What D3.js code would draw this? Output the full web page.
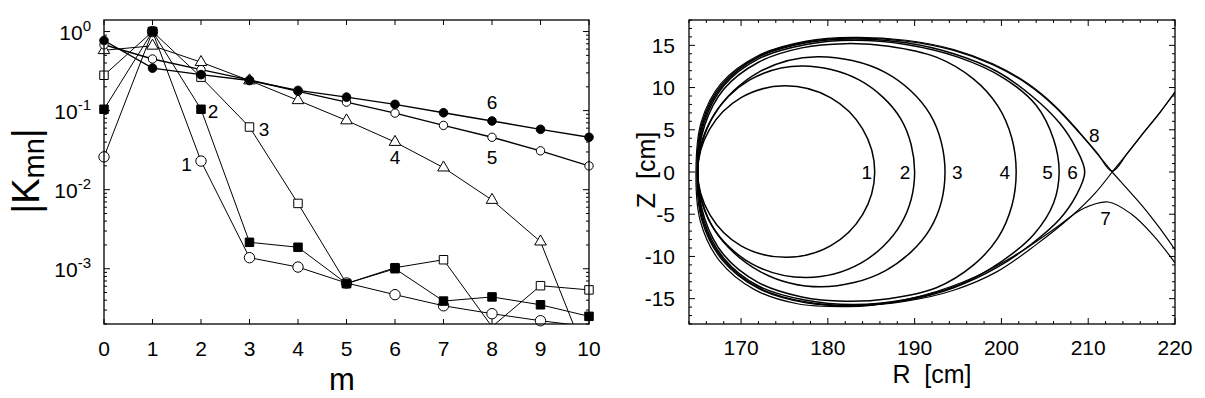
<!DOCTYPE html>
<html lang="en">
<head>
<meta charset="UTF-8">
<title>Kmn spectrum and flux surfaces</title>
<script src="https://d3js.org/d3.v7.min.js"></script>
<style>
  body { margin: 0; background: #fff; }
  svg { display: block; font-family: "Liberation Sans", Arial, sans-serif; }
  .frame { fill: none; stroke: #000; stroke-width: 1.3; }
</style>
</head>
<body>
<svg id="chart" width="1205" height="398"></svg>
<script>
// ---- left panel data: |K_mn| versus m ----
const mValues = [0, 1, 2, 3, 4, 5, 6, 7, 8, 9, 10];
const k1 = [0.026, 1.0, 0.023, 0.00138, 0.00105, 0.00066, 0.00047, 0.00034, 0.00027, 0.00022, 0.000185];
const k2 = [0.104, 1.0, 0.104, 0.00216, 0.00187, 0.00065, 0.001, 0.00039, 0.00044, 0.00035, 0.00025];
const k3 = [0.28, 1.0, 0.265, 0.062, 0.0067, 0.00065, 0.00103, 0.0013, 0.000185, 0.00061, 0.00054];
const k4 = [0.58, 0.66, 0.41, 0.24, 0.135, 0.075, 0.04, 0.019, 0.0074, 0.0022, 0.000063];
const k5 = [0.68, 0.45, 0.33, 0.245, 0.175, 0.128, 0.093, 0.065, 0.046, 0.031, 0.020];
const k6 = [0.77, 0.345, 0.285, 0.24, 0.18, 0.148, 0.12, 0.094, 0.074, 0.058, 0.046];
const kLabels = [["1", 1.7, 0.021], ["2", 2.25, 0.1], ["3", 3.3, 0.058], ["4", 6.0, 0.026], ["5", 8.0, 0.026], ["6", 8.0, 0.128]];
const logTicks = [0, -1, -2, -3];

// ---- right panel data: flux surfaces (R, Z) in cm ----
const surf1 = [[185.4,0],[184.0,5.1],[180.3,8.8],[175.0,10.2],[170.0,8.8],[166.4,5.1],[165.0,0],[166.4,-5.05],[170.0,-8.75],[175.2,-10.1],[180.3,-8.75],[184.0,-5.05]];
const surf2 = [[190.0,0],[188.4,6.3],[183.6,10.9],[177.0,12.55],[171.0,10.9],[166.6,6.3],[165.0,0],[166.6,-6.3],[171.2,-10.85],[177.5,-12.5],[183.8,-10.8],[188.4,-6.2]];
const surf3 = [[193.5,0],[191.8,6.8],[186.6,11.8],[178.8,13.65],[172.0,11.8],[166.9,6.8],[165.0,0],[166.9,-6.8],[172.2,-11.8],[179.2,-13.6],[186.6,-11.7],[191.8,-6.7]];
const surf4 = [[201.7,0],[201.2,4],[199.6,7.8],[196.8,11],[192.5,13.6],[187,14.9],[182,15.2],[177,14.7],[172,13],[168,9.8],[165.8,5.5],[165,0],[165.8,-5.5],[168,-9.8],[172,-13.1],[177,-14.8],[182,-15.3],[187,-15],[192.5,-13.7],[196.8,-11],[199.6,-7.8],[201.2,-4]];
const surf5 = [[206.65,0],[206,3.9],[204,7.9],[200.3,11.1],[195,13.6],[189,15.1],[183,15.6],[177.5,15.1],[172,13.4],[168,10.2],[165.7,5.7],[165,0],[165.7,-5.7],[168,-10.2],[172,-13.5],[177.5,-15.2],[183,-15.7],[189,-15.1],[195,-13.4],[200,-10.6],[203.8,-7.3],[206,-3.7]];
const surf6 = [[209.6,0],[208.6,2.8],[206.7,5.8],[203.5,9],[199.5,11.9],[194.5,14],[189,15.3],[183,15.75],[177.5,15.3],[172,13.6],[167.9,10.3],[165.6,5.8],[165,0],[165.6,-5.8],[167.9,-10.3],[172,-13.7],[177.5,-15.4],[183,-15.8],[189,-15.2],[194.5,-13.7],[199.5,-11.3],[203.5,-8.5],[206.7,-5.6],[208.6,-2.8]];
const separatrix = [[212.76,0],[211.0,2.2],[209.0,4.6],[206.2,7.7],[203,10.4],[199,12.7],[194.5,14.4],[189,15.5],[183,15.85],[177.5,15.4],[172,13.7],[167.8,10.4],[165.5,5.8],[164.9,0],[165.5,-5.8],[167.8,-10.4],[172,-13.8],[177.5,-15.5],[183,-15.85],[189,-15.3],[194.5,-14],[199.5,-11.8],[204,-8.6],[208,-5.3],[210.8,-2.5],[212.76,0]];
const legUpper = [[212.76,0],[214.5,2.2],[216.5,4.8],[218.3,7.1],[220,9.4]];
const legLower = [[212.76,0],[214.5,-2],[216.3,-4.1],[218.2,-6.6],[220,-9.2]];
const surf7 = [[220,-10.75],[217.5,-7.5],[215,-5],[212.3,-3.55],[209.5,-4.3],[206,-6.8],[202,-9.6],[197,-12.4],[191,-14.6],[185,-15.8],[182,-15.95],[176.5,-15.6],[171.5,-13.9],[167.5,-10.5],[165.3,-5.8],[164.8,0],[165.4,5.9],[167.7,10.5],[172,13.8],[177.5,15.5],[183,15.95],[189,15.6],[194.5,14.5],[199,12.8],[203,10.5],[206.2,7.8],[209,4.7],[211,2.3],[212.76,0.1],[214.5,2.2],[216.5,4.8],[218.3,7.1],[220,9.5]];
const surfLabels = [["1", 184.5, 0], ["2", 188.9, 0], ["3", 194.9, 0], ["4", 200.4, 0], ["5", 205.3, 0], ["6", 208.2, 0], ["7", 212.0, -5.4], ["8", 210.7, 4.4]];
const rTicks = [170, 180, 190, 200, 210, 220];
const zTicks = [-15, -10, -5, 0, 5, 10, 15];

const svg = d3.select("#chart");

// ================= left panel =================
const L = { left: 104, right: 589, top: 20, bottom: 324 };
const xL = d3.scaleLinear().domain([0, 10]).range([L.left, L.right]);
const yL = d3.scaleLog().domain([2e-4, 1.4]).range([L.bottom, L.top]);

const gL = svg.append("g");
gL.append("clipPath").attr("id", "clipL").append("rect")
  .attr("x", L.left).attr("y", L.top).attr("width", L.right - L.left).attr("height", L.bottom - L.top);

// ticks (inside, mirrored)
mValues.forEach(m => {
  [[L.bottom, -5], [L.top, 5]].forEach(([y0, d]) => {
    gL.append("line").attr("x1", xL(m)).attr("x2", xL(m)).attr("y1", y0).attr("y2", y0 + d)
      .attr("stroke", "#000").attr("stroke-width", 1);
  });
  gL.append("text").attr("x", xL(m)).attr("y", 356).attr("text-anchor", "middle")
    .attr("font-size", 21).text(m);
});
const minorLog = [];
for (let e = -4; e <= 0; e++) for (let k = 1; k <= 9; k++) {
  const v = k * Math.pow(10, e);
  if (v >= 2e-4 && v <= 1.4) minorLog.push({ v, major: k === 1 });
}
minorLog.forEach(t => {
  const len = t.major ? 6 : 3;
  [[L.left, len], [L.right, -len]].forEach(([x0, d]) => {
    gL.append("line").attr("x1", x0).attr("x2", x0 + d).attr("y1", yL(t.v)).attr("y2", yL(t.v))
      .attr("stroke", "#000").attr("stroke-width", 1);
  });
});
logTicks.forEach(e => {
  const t = gL.append("text").attr("x", 91).attr("y", yL(Math.pow(10, e)) + 8)
    .attr("text-anchor", "end").attr("font-size", 21);
  t.append("tspan").text("10");
  t.append("tspan").attr("dy", -9).attr("font-size", 15).text(e === 0 ? "0" : "-" + (-e));
});

const seriesL = [
  { vals: k1, sym: "circle", fill: "#fff", size: 85, lw: 1 },
  { vals: k2, sym: "square", fill: "#000", size: 72, lw: 1 },
  { vals: k3, sym: "square", fill: "#fff", size: 72, lw: 1 },
  { vals: k4, sym: "triangle", fill: "#fff", size: 58, lw: 1 },
  { vals: k5, sym: "circle", fill: "#fff", size: 55, lw: 1.4 },
  { vals: k6, sym: "circle", fill: "#000", size: 58, lw: 1.4 }
];
const markerOrder = [2, 0, 1, 3, 4, 5];
const symType = { circle: d3.symbolCircle, square: d3.symbolSquare, triangle: d3.symbolTriangle };
const lineL = d3.line().x((d, i) => xL(mValues[i])).y(d => yL(d));
const plotL = gL.append("g").attr("clip-path", "url(#clipL)");
seriesL.forEach(s => {
  plotL.append("path").attr("d", lineL(s.vals)).attr("fill", "none")
    .attr("stroke", "#000").attr("stroke-width", s.lw);
});
const [yMin, yMax] = yL.domain();
markerOrder.map(i => seriesL[i]).forEach(s => {
  const pts = s.vals.map((v, i) => ({ m: mValues[i], v })).filter(p => p.v >= yMin && p.v <= yMax);
  gL.selectAll(null).data(pts).enter().append("path")
    .attr("transform", d => `translate(${xL(d.m)},${yL(d.v)})`)
    .attr("d", d3.symbol().type(symType[s.sym]).size(s.size))
    .attr("fill", s.fill).attr("stroke", "#000").attr("stroke-width", 1);
});
kLabels.forEach(([t, m, v]) => {
  gL.append("text").attr("x", xL(m)).attr("y", yL(v) + 7).attr("text-anchor", "middle")
    .attr("font-size", 19).text(t);
});
gL.append("rect").attr("class", "frame").attr("x", L.left).attr("y", L.top)
  .attr("width", L.right - L.left).attr("height", L.bottom - L.top);
gL.append("text").attr("x", 342).attr("y", 390).attr("text-anchor", "middle").attr("font-size", 31).text("m");
const kl = gL.append("text").attr("transform", "translate(39,171) rotate(-90)")
  .attr("text-anchor", "middle").attr("font-size", 38);
kl.append("tspan").text("|K");
kl.append("tspan").attr("dy", 5).attr("font-size", 29).text("mn");
kl.append("tspan").attr("dy", -5).text("|");

// ================= right panel =================
const P = { left: 689, right: 1175, top: 20, bottom: 324 };
const xR = d3.scaleLinear().domain([164, 220]).range([P.left, P.right]);
const yR = d3.scaleLinear().domain([-18, 18]).range([P.bottom, P.top]);
const gR = svg.append("g");
gR.append("clipPath").attr("id", "clipR").append("rect")
  .attr("x", P.left).attr("y", P.top).attr("width", P.right - P.left).attr("height", P.bottom - P.top);

for (let r = 164; r <= 220; r += 2) {
  const len = r % 10 === 0 ? 6 : 3;
  [[P.bottom, -len], [P.top, len]].forEach(([y0, d]) => {
    gR.append("line").attr("x1", xR(r)).attr("x2", xR(r)).attr("y1", y0).attr("y2", y0 + d)
      .attr("stroke", "#000").attr("stroke-width", 1);
  });
}
for (let z = -18; z <= 18; z += 1) {
  const len = z % 5 === 0 ? 6 : 3;
  [[P.left, len], [P.right, -len]].forEach(([x0, d]) => {
    gR.append("line").attr("x1", x0).attr("x2", x0 + d).attr("y1", yR(z)).attr("y2", yR(z))
      .attr("stroke", "#000").attr("stroke-width", 1);
  });
}
rTicks.forEach(r => {
  gR.append("text").attr("x", xR(r)).attr("y", 355).attr("text-anchor", "middle").attr("font-size", 21).text(r);
});
zTicks.forEach(z => {
  gR.append("text").attr("x", 675).attr("y", yR(z) + 7.5).attr("text-anchor", "end").attr("font-size", 21).text(z);
});

const lineR = d3.line().x(d => xR(d[0])).y(d => yR(d[1]));
const plotR = gR.append("g").attr("clip-path", "url(#clipR)");
[surf1, surf2, surf3, surf4, surf5, surf6].forEach(s => {
  plotR.append("path").attr("d", lineR.curve(d3.curveCatmullRomClosed)(s))
    .attr("fill", "none").attr("stroke", "#000").attr("stroke-width", 1.5);
});
[separatrix, legUpper, legLower, surf7].forEach(s => {
  plotR.append("path").attr("d", lineR.curve(d3.curveCatmullRom)(s))
    .attr("fill", "none").attr("stroke", "#000").attr("stroke-width", 1.2);
});
surfLabels.forEach(([t, r, z]) => {
  gR.append("text").attr("x", xR(r)).attr("y", yR(z) + 7).attr("text-anchor", "middle")
    .attr("font-size", 19).text(t);
});
gR.append("rect").attr("class", "frame").attr("x", P.left).attr("y", P.top)
  .attr("width", P.right - P.left).attr("height", P.bottom - P.top);
gR.append("text").attr("x", 932).attr("y", 383).attr("text-anchor", "middle").attr("font-size", 25)
  .attr("xml:space", "preserve").text("R  [cm]");
gR.append("text").attr("transform", "translate(655,170) rotate(-90)").attr("text-anchor", "middle")
  .attr("font-size", 25).attr("xml:space", "preserve").text("Z  [cm]");
</script>
</body>
</html>
